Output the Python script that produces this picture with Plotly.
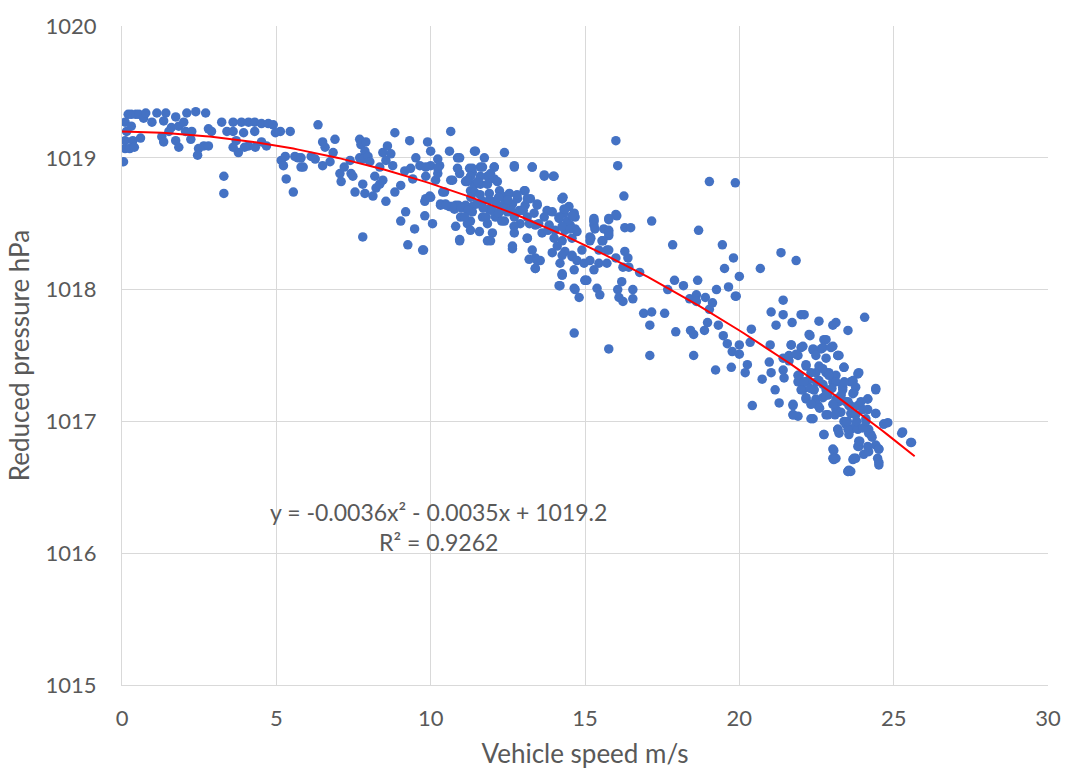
import numpy as np
import plotly.graph_objects as go

# ---------------- data (speed m/s, reduced pressure hPa) ----------------
SEG_0_3 = [
    (0.05, 1018.97), (0.1, 1019.07), (0.1, 1019.13), (0.15, 1019.2), (0.1, 1019.27),
    (0.2, 1019.33), (0.3, 1019.33), (0.45, 1019.33), (0.55, 1019.33), (0.3, 1019.24),
    (0.35, 1019.13), (0.25, 1019.07), (0.4, 1019.08), (0.6, 1019.15), (0.7, 1019.3),
    (0.77, 1019.34), (1.13, 1019.34), (1.42, 1019.34), (1.74, 1019.31), (2.1, 1019.34),
    (2.39, 1019.35), (2.71, 1019.34), (0.97, 1019.27), (1.35, 1019.28), (1.6, 1019.23),
    (1.84, 1019.24), (2.0, 1019.27), (2.06, 1019.2), (1.52, 1019.2), (1.29, 1019.16),
    (1.35, 1019.12), (1.74, 1019.13), (1.84, 1019.08), (2.23, 1019.14), (2.26, 1019.2),
    (2.48, 1019.07), (2.65, 1019.09), (2.45, 1019.02), (2.8, 1019.09), (2.9, 1019.2),
    (2.8, 1019.22),
]
SEG_3_7 = [
    (3.3, 1018.86), (3.3, 1018.73), (3.23, 1019.27), (3.6, 1019.27), (3.87, 1019.27),
    (4.1, 1019.27), (4.3, 1019.27), (4.52, 1019.26), (4.74, 1019.26), (4.9, 1019.25),
    (3.4, 1019.2), (3.6, 1019.2), (3.94, 1019.19), (4.3, 1019.2), (3.7, 1019.13),
    (3.6, 1019.08), (3.77, 1019.04), (4.1, 1019.09), (4.32, 1019.08), (4.52, 1019.12),
    (4.68, 1019.09), (3.97, 1019.08), (5.13, 1019.2), (5.45, 1019.2), (4.97, 1019.19),
    (5.16, 1018.98), (5.29, 1019.01), (5.23, 1018.94), (5.32, 1018.84), (5.55, 1018.74),
    (5.7, 1019.0), (5.8, 1018.93), (5.6, 1019.01), (6.35, 1019.25), (5.8, 1019.0),
    (5.87, 1018.93), (6.13, 1019.01), (6.26, 1018.99), (6.5, 1019.12), (6.58, 1019.08),
    (6.9, 1019.14), (6.84, 1019.04), (6.5, 1018.94), (6.74, 1018.97),
]
SEG_7_11 = [
    (7.06, 1018.88), (7.1, 1018.82), (7.2, 1018.93), (7.39, 1018.98), (7.42, 1018.88),
    (7.48, 1018.86), (7.55, 1018.74), (7.7, 1019.14), (7.74, 1019.1), (7.9, 1019.12),
    (7.7, 1019.0), (7.87, 1019.05), (7.8, 1018.99), (7.8, 1018.8), (7.8, 1018.4),
    (7.87, 1018.73), (7.97, 1019.01), (8.03, 1018.97), (8.19, 1018.86), (8.23, 1018.77),
    (8.13, 1018.71), (8.35, 1018.8), (8.35, 1018.93), (8.45, 1019.04), (8.55, 1018.98),
    (8.55, 1018.67), (8.45, 1018.83), (8.6, 1019.09), (8.71, 1019.03), (8.84, 1019.19),
    (8.84, 1018.74), (8.77, 1018.94), (9.03, 1018.79), (9.03, 1018.52), (9.16, 1018.9),
    (9.19, 1018.59), (9.26, 1018.34), (9.32, 1019.13), (9.35, 1018.92), (9.42, 1018.84),
    (9.48, 1018.46), (9.52, 1019.0), (9.65, 1018.94), (9.81, 1018.67), (9.81, 1018.56),
    (9.77, 1018.3), (9.84, 1018.86), (9.9, 1019.12), (9.97, 1018.71), (10.0, 1019.05),
    (10.0, 1018.94), (10.06, 1018.5), (10.16, 1018.83), (10.23, 1018.99), (10.23, 1018.88),
    (10.29, 1018.94), (10.32, 1018.65), (10.45, 1018.74), (10.48, 1018.65), (10.65, 1019.2),
    (10.61, 1019.05), (10.65, 1018.63), (10.71, 1018.83), (10.77, 1018.61), (10.81, 1018.48),
    (10.87, 1019.0), (10.94, 1018.88), (10.94, 1018.38), (10.97, 1018.55), (9.84, 1018.93),
    (10.23, 1018.92), (9.84, 1018.69), (10.0, 1018.7), (9.74, 1018.3), (10.39, 1018.74),
    (10.65, 1018.83), (10.32, 1018.64), (10.61, 1018.63), (10.81, 1018.64), (10.87, 1018.92),
    (10.94, 1019.0), (10.9, 1018.64), (10.7, 1018.63), (10.5, 1018.64),
]
SEG_11_15 = [
    (11.1, 1018.63), (11.13, 1018.82), (11.26, 1018.92), (11.29, 1018.75), (11.42, 1019.05),
    (11.42, 1018.8), (11.35, 1018.63), (11.29, 1018.52), (11.19, 1018.82), (11.13, 1018.64),
    (11.19, 1018.5), (11.35, 1018.89), (11.42, 1018.74), (11.35, 1018.59), (11.29, 1018.45),
    (11.58, 1018.44), (11.61, 1018.93), (11.61, 1018.8), (11.68, 1018.67), (11.68, 1018.55),
    (11.84, 1018.86), (11.9, 1018.73), (11.9, 1018.61), (11.84, 1018.5), (11.84, 1018.37),
    (12.06, 1018.93), (12.06, 1018.84), (12.1, 1018.67), (12.1, 1018.55), (12.0, 1018.43),
    (12.23, 1018.75), (12.26, 1018.63), (12.32, 1018.71), (12.39, 1018.52), (12.42, 1018.67),
    (12.48, 1018.59), (12.55, 1018.73), (12.65, 1018.65), (12.71, 1018.93), (12.71, 1018.55),
    (12.65, 1018.31), (12.71, 1018.43), (12.81, 1018.69), (12.87, 1018.6), (12.9, 1018.5),
    (13.03, 1018.75), (13.06, 1018.64), (13.13, 1018.55), (13.13, 1018.39), (13.23, 1018.69),
    (13.29, 1018.93), (13.29, 1018.3), (13.35, 1018.58), (13.39, 1018.49), (13.39, 1018.24),
    (13.45, 1018.64), (13.39, 1018.16), (13.55, 1018.22), (13.61, 1018.43), (13.68, 1018.86),
    (13.68, 1018.55), (13.77, 1018.6), (13.84, 1018.49), (13.94, 1018.59), (13.94, 1018.28),
    (14.0, 1018.86), (14.0, 1018.39), (14.03, 1018.45), (14.1, 1018.33), (14.16, 1018.54),
    (14.19, 1018.2), (14.26, 1018.69), (14.26, 1018.37), (14.32, 1018.58), (14.35, 1018.45),
    (14.35, 1018.29), (14.26, 1018.11), (14.19, 1018.03), (14.48, 1018.63), (14.52, 1018.49),
    (14.58, 1018.39), (14.58, 1018.25), (14.65, 1018.15), (14.65, 1018.01), (14.68, 1018.55),
    (11.45, 1019.05), (11.74, 1019.0), (12.39, 1019.04), (12.71, 1018.94), (13.29, 1018.93),
    (13.68, 1018.87), (13.97, 1018.86), (11.35, 1018.92), (11.68, 1018.93), (12.06, 1018.93),
    (11.29, 1018.86), (11.61, 1018.86), (11.94, 1018.88), (11.19, 1018.83), (11.52, 1018.82),
    (11.84, 1018.8), (12.16, 1018.82), (13.06, 1018.75), (13.13, 1018.69), (13.45, 1018.65),
    (14.29, 1018.7), (14.32, 1018.61), (14.65, 1018.58), (14.42, 1018.52), (14.68, 1018.46),
    (13.19, 1018.23), (13.45, 1018.22), (12.65, 1018.33), (13.13, 1018.39), (11.94, 1018.37),
    (10.94, 1018.37), (14.26, 1018.11), (13.39, 1018.16),
    (11.0, 1018.62), (11.2, 1018.6), (11.5, 1018.65), (11.7, 1018.62), (12.0, 1018.6),
    (12.2, 1018.58), (12.4, 1018.62), (12.6, 1018.6), (11.3, 1018.7), (11.6, 1018.72),
    (11.9, 1018.68), (12.2, 1018.7), (12.5, 1018.68), (12.8, 1018.72), (13.0, 1018.6),
    (11.8, 1018.55), (12.3, 1018.52), (12.7, 1018.48), (13.2, 1018.5), (11.1, 1018.55),
    (13.5, 1018.5), (13.8, 1018.45),
    (14.26, 1018.69), (14.35, 1018.61), (14.58, 1018.56), (14.16, 1018.55), (14.26, 1018.48),
    (14.52, 1018.46), (14.74, 1018.44), (14.9, 1018.3), (14.58, 1018.26), (14.26, 1018.26),
    (14.74, 1018.22), (14.97, 1018.2), (14.26, 1018.12), (14.16, 1018.03), (14.68, 1018.0),
    (14.81, 1017.94), (14.65, 1017.67),
]
SEG_15_20 = [
    (16.0, 1019.13), (16.06, 1018.94), (16.26, 1018.71), (19.03, 1018.82), (19.87, 1018.81),
    (16.0, 1018.57), (15.77, 1018.53), (15.29, 1018.52), (15.29, 1018.49), (15.61, 1018.46),
    (15.77, 1018.45), (15.77, 1018.41), (15.19, 1018.39), (15.58, 1018.37), (16.29, 1018.47),
    (16.48, 1018.47), (17.16, 1018.52), (18.68, 1018.45), (17.84, 1018.34), (19.45, 1018.34),
    (19.81, 1018.24), (19.52, 1018.16), (20.0, 1018.1), (15.45, 1018.3), (15.77, 1018.3),
    (16.29, 1018.29), (16.39, 1018.24), (16.0, 1018.24), (15.45, 1018.2), (15.71, 1018.2),
    (15.29, 1018.15), (16.23, 1018.17), (16.42, 1018.17), (16.77, 1018.13), (15.06, 1018.07),
    (15.39, 1018.01), (16.06, 1018.0), (16.19, 1018.06), (16.55, 1018.0), (15.48, 1017.96),
    (16.1, 1017.94), (16.23, 1017.91), (16.55, 1017.93), (17.68, 1018.0), (17.9, 1018.07),
    (18.19, 1018.03), (18.65, 1018.07), (18.39, 1017.93), (18.61, 1017.96), (18.61, 1017.91),
    (18.9, 1017.94), (19.13, 1017.9), (19.26, 1018.0), (19.65, 1018.02), (19.87, 1017.95),
    (19.03, 1017.85), (18.97, 1017.75), (19.32, 1017.73), (18.87, 1017.69), (16.9, 1017.82),
    (17.16, 1017.83), (17.58, 1017.82), (17.1, 1017.73), (17.94, 1017.68), (18.42, 1017.69),
    (18.52, 1017.66), (19.48, 1017.65), (19.61, 1017.59), (20.0, 1017.58), (19.77, 1017.53),
    (20.0, 1017.51), (15.77, 1017.55), (17.1, 1017.5), (18.52, 1017.5), (19.23, 1017.39),
    (19.74, 1017.41), (15.16, 1018.37), (15.29, 1018.52), (15.32, 1018.46), (15.0, 1018.07),
    (15.29, 1018.54), (16.03, 1018.56), (15.16, 1018.4), (15.55, 1018.37), (15.0, 1018.07),
    (15.77, 1018.54), (15.77, 1018.43), (15.71, 1018.3), (15.16, 1018.22), (19.9, 1017.95),
]
SEG_20_26 = [
    (21.35, 1018.28), (21.84, 1018.22), (20.68, 1018.16), (21.42, 1017.92), (21.03, 1017.83),
    (21.42, 1017.81), (22.0, 1017.81), (22.1, 1017.81), (21.19, 1017.73), (21.71, 1017.75),
    (22.58, 1017.76), (23.03, 1017.73), (23.52, 1017.69), (20.39, 1017.7), (22.29, 1017.65),
    (20.35, 1017.6), (21.0, 1017.58), (21.68, 1017.58), (22.06, 1017.57), (22.39, 1017.54),
    (22.74, 1017.62), (23.03, 1017.57), (22.65, 1017.55), (23.19, 1017.5), (20.26, 1017.43),
    (20.97, 1017.45), (21.42, 1017.48), (21.61, 1017.46), (21.9, 1017.5), (22.16, 1017.43),
    (23.39, 1017.41), (20.19, 1017.37), (21.03, 1017.37), (21.42, 1017.39), (21.94, 1017.35),
    (22.48, 1017.37), (22.81, 1017.37), (23.13, 1017.35), (20.74, 1017.32), (21.45, 1017.33),
    (21.9, 1017.3), (22.23, 1017.31), (22.42, 1017.24), (22.71, 1017.28), (23.03, 1017.3),
    (23.35, 1017.26), (23.61, 1017.3), (21.16, 1017.24), (22.06, 1017.24), (22.16, 1017.17),
    (22.48, 1017.17), (22.87, 1017.2), (23.23, 1017.15), (23.55, 1017.12), (20.42, 1017.12),
    (21.29, 1017.14), (21.74, 1017.12), (21.74, 1017.05), (21.9, 1017.04), (22.39, 1017.02),
    (22.81, 1017.05), (23.13, 1017.09), (23.39, 1017.0), (22.55, 1017.12), (22.74, 1016.9),
    (23.03, 1016.79), (23.06, 1016.71), (23.55, 1016.63), (23.68, 1016.71), (23.61, 1016.94),
    (23.19, 1016.94),
]
SEG_22_26_DENSE = [
    (24.06, 1017.79), (23.87, 1017.37), (24.42, 1017.25), (23.71, 1017.22), (24.16, 1017.17),
    (23.84, 1017.12), (24.0, 1017.09), (23.61, 1017.06), (24.42, 1017.06), (24.1, 1017.02),
    (24.68, 1016.98), (24.81, 1016.99), (23.77, 1016.97), (24.19, 1016.94), (24.26, 1016.9),
    (25.26, 1016.91), (25.58, 1016.84), (23.87, 1016.85), (24.42, 1016.82), (24.52, 1016.79),
    (24.03, 1016.75), (24.19, 1016.77), (23.77, 1016.72), (24.48, 1016.72), (24.52, 1016.67),
    (23.52, 1016.62), (23.61, 1016.62), (23.13, 1017.75), (23.23, 1017.5), (23.68, 1017.3),
    (23.13, 1017.17), (23.45, 1017.15), (23.23, 1017.07), (23.45, 1016.98), (23.23, 1016.91),
    (23.55, 1016.9), (23.87, 1016.81), (23.13, 1016.72),
    (22.26, 1017.66), (22.81, 1017.62), (21.68, 1017.58), (22.0, 1017.56), (22.39, 1017.55),
    (22.71, 1017.56), (22.97, 1017.56), (23.19, 1017.5), (21.61, 1017.5), (21.84, 1017.51),
    (22.48, 1017.5), (22.81, 1017.48), (23.39, 1017.41), (22.16, 1017.42), (22.58, 1017.42),
    (21.9, 1017.35), (22.32, 1017.37), (22.9, 1017.37), (23.84, 1017.36), (22.1, 1017.3),
    (22.58, 1017.31), (23.13, 1017.3), (23.68, 1017.31), (22.0, 1017.24), (22.42, 1017.24),
    (22.81, 1017.24), (23.35, 1017.24), (23.77, 1017.26), (24.42, 1017.24), (22.16, 1017.18),
    (22.71, 1017.18), (23.23, 1017.18), (23.68, 1017.21), (24.16, 1017.17), (21.74, 1017.13),
    (22.32, 1017.13), (23.03, 1017.13), (23.52, 1017.15), (23.94, 1017.15), (21.74, 1017.05),
    (22.32, 1017.02), (22.87, 1017.05), (23.29, 1017.07), (23.77, 1017.05), (24.16, 1017.09),
    (24.42, 1017.06), (24.68, 1016.98), (25.29, 1016.92), (25.55, 1016.84), (22.74, 1016.9),
    (23.19, 1016.94), (23.52, 1016.94), (23.84, 1016.94), (24.19, 1016.91), (23.06, 1016.78),
    (23.84, 1016.81), (24.16, 1016.81), (24.52, 1016.79), (23.03, 1016.72), (23.71, 1016.72),
    (24.52, 1016.69), (23.52, 1016.62),
    (22.5, 1017.3), (22.8, 1017.2), (23.0, 1017.25), (23.3, 1017.2), (22.6, 1017.1),
    (23.1, 1017.05), (23.5, 1017.0), (23.8, 1017.0), (24.0, 1016.95), (22.9, 1017.35),
    (23.4, 1017.3), (23.6, 1017.12), (24.1, 1017.0), (22.3, 1017.25), (22.7, 1017.4),
    (23.9, 1016.85), (24.3, 1016.88),
]

# Excel polynomial trendline shown on the chart
TREND_COEFFS = [-0.0036, -0.0035, 1019.2]
TREND_TEXT = "y = -0.0036x² - 0.0035x + 1019.2<br>R² = 0.9262"

X_TICKS = [0, 5, 10, 15, 20, 25, 30]
Y_TICKS = [1015, 1016, 1017, 1018, 1019, 1020]

# ---------------- assemble ----------------
points = SEG_0_3 + SEG_3_7 + SEG_7_11 + SEG_11_15 + SEG_15_20 + SEG_20_26 + SEG_22_26_DENSE
speed = [p[0] for p in points]
pressure = [p[1] for p in points]

x_fit = np.linspace(0, max(speed) + 0.1, 200)
y_fit = np.polyval(TREND_COEFFS, x_fit)

FONT = "Lato, 'Open Sans', sans-serif"
GREY = "#595959"
GRID = "#D9D9D9"

fig = go.Figure()
fig.add_trace(go.Scatter(
    x=speed, y=pressure, mode="markers",
    marker=dict(size=9.5, color="#4472C4", line=dict(width=0)),
    showlegend=False, hoverinfo="x+y",
))
fig.add_trace(go.Scatter(
    x=x_fit, y=y_fit, mode="lines",
    line=dict(color="#FF0000", width=2),
    showlegend=False, hoverinfo="skip",
))

fig.add_annotation(
    x=10.25, y=1016.2, xref="x", yref="y", text=TREND_TEXT, showarrow=False,
    font=dict(family=FONT, size=23, color=GREY), align="center",
)

fig.update_layout(
    width=1084, height=776,
    margin=dict(l=122, r=36, t=21, b=91),
    paper_bgcolor="white", plot_bgcolor="white",
    font=dict(family=FONT, color=GREY),
    xaxis=dict(
        range=[0, 30], tickvals=X_TICKS, showgrid=True, gridcolor=GRID, gridwidth=1,
        zeroline=False, showline=True, linecolor=GRID, linewidth=1,
        tickfont=dict(size=22, color=GREY), ticks="", ticklabelstandoff=14,
        title=dict(text="Vehicle speed m/s", font=dict(size=26, color=GREY), standoff=14),
    ),
    yaxis=dict(
        range=[1015, 1020], tickvals=Y_TICKS, showgrid=True, gridcolor=GRID, gridwidth=1,
        zeroline=False, showline=True, linecolor=GRID, linewidth=1,
        tickfont=dict(size=22, color=GREY), ticks="", ticklabelstandoff=20,
        tickformat="d",
        title=dict(text="Reduced pressure hPa", font=dict(size=26, color=GREY), standoff=8),
    ),
)

fig.write_html("out.html")
